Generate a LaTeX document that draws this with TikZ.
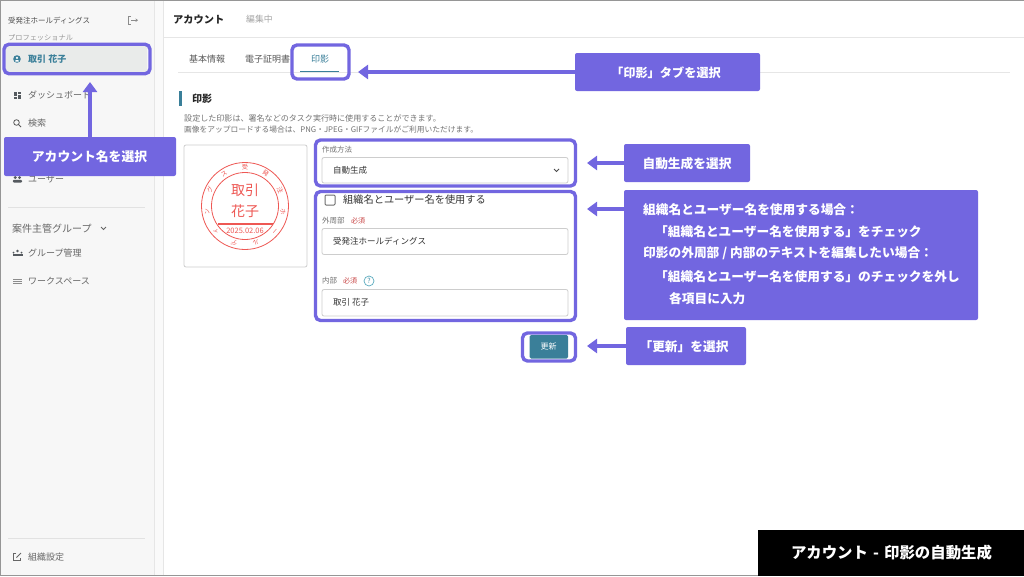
\documentclass[tikz,border=0pt]{standalone}
\usepackage{fontspec}
\setmainfont{Noto Sans CJK JP}
\usetikzlibrary{arrows.meta}
\definecolor{calloutfill}{RGB}{114,102,224}
\definecolor{brandteal}{RGB}{58,127,153}
\definecolor{stampred}{RGB}{238,88,84}
\definecolor{requiredred}{RGB}{200,70,70}
\tikzset{
  callout/.style={fill=calloutfill,rounded corners=2pt,inner sep=0pt},
  callouttext/.style={text=white,font=\fontsize{#1}{#1}\selectfont\bfseries,inner sep=0pt},
  markbox/.style={draw=calloutfill,line width=3.4pt,rounded corners=5pt,inner sep=0pt},
  pointer/.style={draw=calloutfill,line width=3.2pt,-{Stealth[length=10pt,width=14pt,inset=0pt]}},
  uitext/.style={anchor=west,inner sep=0pt,text=#1},
  inputbox/.style={draw={rgb,255:red,205;green,205;blue,205},fill=white,rounded corners=2pt,line width=0.8pt},
  stampline/.style={draw=stampred,line width=0.8pt},
  icon/.style={fill={rgb,255:red,85;green,90;blue,95}},
}
\begin{document}
\begin{tikzpicture}[x=1pt,y=-1pt]%
\useasboundingbox (0,0) rectangle (1024,576);%
\fill[white] (0,0) rectangle (1024,576);%
\fill[fill={rgb,255:red,247;green,247;blue,247}] (0,0) rectangle (154,576);%
\fill[fill={rgb,255:red,250;green,250;blue,250}] (154,0) rectangle (163,576);%
\draw[draw={rgb,255:red,230;green,230;blue,230},line width=0.7pt] (154,0) -- (154,576);%
\draw[draw={rgb,255:red,230;green,230;blue,230},line width=0.7pt] (163,0) -- (163,576);%
\draw[draw={rgb,255:red,230;green,230;blue,230},line width=0.7pt] (163,37.5) -- (1024,37.5);%
\draw[draw={rgb,255:red,150;green,150;blue,150},line width=1.2pt] (0,0.5) -- (1024,0.5);%
\draw[draw={rgb,255:red,150;green,150;blue,150},line width=1.2pt] (0.5,0) -- (0.5,576);%
\draw[draw={rgb,255:red,150;green,150;blue,150},line width=1pt] (0,575.5) -- (1024,575.5);%
%
\node[uitext={black!70},font=\fontsize{7.5}{9}\selectfont] (sideCompany) at (8,20.5) {受発注ホールディングス};%
\node[uitext={black!40},font=\fontsize{7.2}{9}\selectfont] (sidePlan) at (8,37.5) {プロフェッショナル};%
\draw[black!45,line width=0.7pt] (131,16.5) -- (128.5,16.5) -- (128.5,24) -- (131,24);%
\draw[black!45,line width=0.7pt,-{Stealth[length=2.5pt,width=3.5pt]}] (131,20.2) -- (138,20.2);%
\fill[fill={rgb,255:red,233;green,235;blue,234}] (6,46) rectangle (147,72);%
\fill[brandteal] (17,59) circle (3.8);%
\fill[white] (17,57.8) circle (1.2);%
\fill[white] (17,60.9) ellipse (2.2 and 0.8);%
\node[uitext=brandteal,font=\fontsize{9}{11}\selectfont\bfseries] (sideAccount) at (28,59.5) {取引 花子};%
\fill[icon] (14,91.5) rectangle (17,96);%
\fill[icon] (14,97) rectangle (17,99);%
\fill[icon] (18,91.5) rectangle (21,94);%
\fill[icon] (18,95) rectangle (21,99);%
\node[uitext={black!60},font=\fontsize{9}{11}\selectfont] (sideDash) at (28,95.5) {ダッシュボード};%
\draw[black!65,line width=0.8pt] (16.5,122.5) circle (2.8);%
\draw[black!65,line width=0.8pt] (18.6,124.6) -- (21,127);%
\node[uitext={black!60},font=\fontsize{9}{11}\selectfont] (sideSearch) at (28,123.5) {検索};%
\fill[icon] (15.2,177.5) circle (1.6);%
\fill[icon] (19.6,177.5) circle (1.6);%
\fill[icon,rounded corners=1pt] (12.8,182.5) rectangle (22,179.8);%
\node[uitext={black!60},font=\fontsize{9}{11}\selectfont] (sideUser) at (28,179.5) {ユーザー};%
\draw[draw={rgb,255:red,226;green,226;blue,226},line width=0.7pt] (8,207.5) -- (145,207.5);%
\node[uitext={black!60},font=\fontsize{10}{12}\selectfont] (sideGroupHead) at (12,228.5) {案件主管グループ};%
\draw[black!60,line width=0.8pt] (101,227) -- (103.5,229.5) -- (106,227);%
\fill[icon] (17.5,251) circle (1.3);%
\fill[icon] (13.5,252.5) circle (1);%
\fill[icon] (21.5,252.5) circle (1);%
\fill[icon] (12.5,255.5) rectangle (22.5,254);%
\node[uitext={black!60},font=\fontsize{9}{11}\selectfont] (sideGroup) at (28,253.5) {グループ管理};%
\fill[fill={black!45}] (13,279) rectangle (22,280);%
\fill[fill={black!45}] (13,281) rectangle (22,282);%
\fill[fill={black!45}] (13,283) rectangle (22,284);%
\node[uitext={black!60},font=\fontsize{9}{11}\selectfont] (sideSpace) at (28,281.5) {ワークスペース};%
\draw[draw={rgb,255:red,226;green,226;blue,226},line width=0.7pt] (8,538) -- (145,538);%
\draw[black!60,line width=0.8pt] (16,553.5) -- (13.5,553.5) -- (13.5,560.5) -- (20.5,560.5) -- (20.5,558);%
\draw[black!60,line width=0.8pt] (16.5,557.5) -- (21,553);%
\node[uitext={black!60},font=\fontsize{9}{11}\selectfont] (sideOrg) at (28,557.5) {組織設定};%
%
\node[uitext={black!85},font=\fontsize{10.2}{12}\selectfont\bfseries] (headAccount) at (173,19.5) {アカウント};%
\node[uitext={black!35},font=\fontsize{8.8}{11}\selectfont] (headEdit) at (246,19.5) {編集中};%
\draw[draw={rgb,255:red,230;green,230;blue,230},line width=0.7pt] (178,72) -- (1010,72);%
\node[uitext={black!65},font=\fontsize{9}{11}\selectfont] (tabBasic) at (189,59.5) {基本情報};%
\node[uitext={black!65},font=\fontsize{9}{11}\selectfont] (tabCert) at (245,59.5) {電子証明書};%
\node[uitext=brandteal,font=\fontsize{9}{11}\selectfont] (tabStamp) at (311,59.5) {印影};%
\draw[brandteal,line width=1.5pt] (300,71.5) -- (339,71.5);%
\fill[brandteal] (179,91) rectangle (181.5,106);%
\node[uitext={black!85},font=\fontsize{10}{12}\selectfont\bfseries] (sectionStamp) at (192,98.5) {印影};%
\node[uitext={black!55},font=\fontsize{8.05}{9}\selectfont] (descOne) at (184,118.5) {設定した印影は、署名などのタスク実行時に使用することができます。};%
\node[uitext={black!55},font=\fontsize{7.75}{9}\selectfont] (descTwo) at (184,129.5) {画像をアップロードする場合は、PNG・JPEG・GIFファイルがご利用いただけます。};%
%
\draw[inputbox] (184,145) rectangle (307,267);%
\draw[stampline] (245,206) circle (43.5);%
\draw[stampline] (245,206) circle (33.5);%
\draw[stampred,line width=1.2pt] (217.5,224) -- (272.5,224);%
\node[text=stampred,inner sep=0pt,font=\fontsize{14}{16}\selectfont] (stampFamily) at (245,190.5) {取引};%
\node[text=stampred,inner sep=0pt,font=\fontsize{14}{16}\selectfont] (stampGiven) at (245,211) {花子};%
\node[text=stampred,inner sep=0pt,font=\fontsize{7.5}{9}\selectfont] (stampDate) at (245,230.5) {2025.02.06};%
\foreach \ringchar [count=\ringidx from 0] in {受,発,注,ホ,ー,ル,デ,ィ,ン,グ,ス}{%
  \node[text=stampred,inner sep=0pt,font=\fontsize{6.2}{7}\selectfont,rotate={-\ringidx*360/11}] (ring\ringidx) at ({245+38.5*sin(\ringidx*360/11)},{206-38.5*cos(\ringidx*360/11)}) {\ringchar};%
}%
%
\node[uitext={black!55},font=\fontsize{7.5}{9}\selectfont] (fieldMethod) at (322,150) {作成方法};%
\draw[inputbox] (322,157.5) rectangle (568,183);%
\node[uitext={black!80},font=\fontsize{8.5}{10}\selectfont] (fieldMethodValue) at (333,170.5) {自動生成};%
\draw[black!70,line width=0.8pt] (554,169) -- (556.5,171.5) -- (559,169);%
\draw[draw={rgb,255:red,110;green,110;blue,110},line width=1pt,rounded corners=1pt] (325,195) rectangle (335,205);%
\node[uitext={black!80},font=\fontsize{10.2}{12}\selectfont] (fieldCheck) at (343,200) {組織名とユーザー名を使用する};%
\node[uitext={black!55},font=\fontsize{7.5}{9}\selectfont] (fieldOuter) at (322,220.5) {外周部};%
\node[uitext=requiredred,font=\fontsize{7}{9}\selectfont] (fieldOuterReq) at (351,220.5) {必須};%
\draw[inputbox] (322,228.5) rectangle (568,254.5);%
\node[uitext={black!80},font=\fontsize{8.5}{10}\selectfont] (fieldOuterValue) at (333,241.5) {受発注ホールディングス};%
\node[uitext={black!55},font=\fontsize{7.5}{9}\selectfont] (fieldInner) at (322,281) {内部};%
\node[uitext=requiredred,font=\fontsize{7}{9}\selectfont] (fieldInnerReq) at (343,281) {必須};%
\node[draw={rgb,255:red,90;green,170;blue,190},circle,line width=0.7pt,minimum size=10pt,inner sep=0pt,text={rgb,255:red,60;green,140;blue,165},font=\fontsize{7}{8}\selectfont] (fieldHelp) at (369,281) {?};%
\draw[inputbox] (322,289.5) rectangle (568,316);%
\node[uitext={black!80},font=\fontsize{8.5}{10}\selectfont] (fieldInnerValue) at (333,302.5) {取引 花子};%
\fill[brandteal,rounded corners=1.5pt] (529.5,335) rectangle (568,358.5);%
\node[text=white,inner sep=0pt,font=\fontsize{8}{9}\selectfont] (btnUpdate) at (548.7,346.8) {更新};%
%
\node[markbox,minimum width=146pt,minimum height=29.5pt] (markAccount) at (77,59) {};%
\node[markbox,minimum width=57pt,minimum height=34pt] (markTab) at (320.5,62) {};%
\node[markbox,minimum width=260pt,minimum height=46pt] (markMethod) at (445.5,163) {};%
\node[markbox,minimum width=260pt,minimum height=129pt] (markName) at (445.5,256) {};%
\node[markbox,minimum width=53pt,minimum height=28pt] (markUpdate) at (549,347) {};%
%
\node[callout,minimum width=172pt,minimum height=39pt] (calloutAccount) at (90,156.5) {};%
\node[callouttext=12.8] (calloutAccountText) at (89.5,157) {アカウント名を選択};%
\node[callout,minimum width=185pt,minimum height=38pt] (calloutTab) at (667.5,72) {};%
\node[callouttext=12.2] (calloutTabText) at (666,72.5) {「印影」タブを選択};%
\node[callout,minimum width=126pt,minimum height=38pt] (calloutMethod) at (687,163) {};%
\node[callouttext=12.7] (calloutMethodText) at (687,163.5) {自動生成を選択};%
\node[callout,minimum width=354pt,minimum height=130pt] (calloutName) at (801,255) {};%
\node[callouttext=12.7,anchor=west] (nameLineOne) at (643,209.5) {組織名とユーザー名を使用する場合：};%
\node[callouttext=12.7,anchor=west] (nameLineTwo) at (655,231.5) {「組織名とユーザー名を使用する」をチェック};%
\node[callouttext=12.7,anchor=west] (nameLineThree) at (643,253.5) {印影の外周部 / 内部のテキストを編集したい場合：};%
\node[callouttext=12.7,anchor=west] (nameLineFour) at (655,276.5) {「組織名とユーザー名を使用する」のチェックを外し};%
\node[callouttext=12.7,anchor=west] (nameLineFive) at (669,298.5) {各項目に入力};%
\node[callout,minimum width=120pt,minimum height=38pt] (calloutUpdate) at (686,346) {};%
\node[callouttext=12.7] (calloutUpdateText) at (684,346.5) {「更新」を選択};%
%
\coordinate (tipAccount) at (90,82);%
\coordinate (tipTab) at (358,72);%
\coordinate (tipMethod) at (587,163);%
\coordinate (tipName) at (587,209);%
\coordinate (tipUpdate) at (587,346);%
\draw[pointer] (calloutAccount.north) -- (tipAccount);%
\draw[pointer] (calloutTab.west) -- (tipTab);%
\draw[pointer] (calloutMethod.west) -- (tipMethod);%
\draw[pointer] (calloutName.west |- tipName) -- (tipName);%
\draw[pointer] (calloutUpdate.west) -- (tipUpdate);%
%
\fill[black] (758,530) rectangle (1024,576);%
\node[text=white,inner sep=0pt,font=\fontsize{15.4}{17}\selectfont\bfseries] (titleBar) at (891.5,553) {アカウント\,\,-\,\,印影の自動生成};%
\end{tikzpicture}
\end{document}
